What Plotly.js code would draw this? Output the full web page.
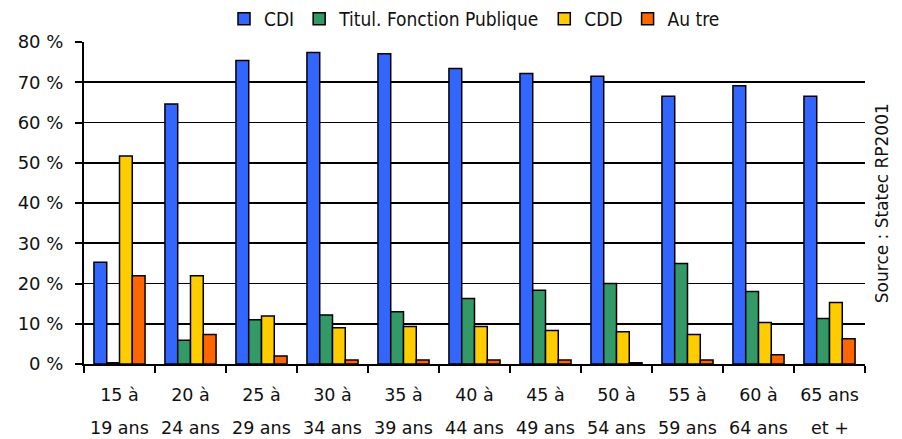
<!DOCTYPE html>
<html>
<head>
<meta charset="utf-8">
<script src="https://cdn.plot.ly/plotly-3.0.1.min.js"></script>
<style>html,body{margin:0;padding:0;background:#fff;}#chart{width:902px;height:439px;}</style>
</head>
<body>
<div id="chart"></div>
<script>
const categories = ["15 à 19 ans","20 à 24 ans","25 à 29 ans","30 à 34 ans","35 à 39 ans","40 à 44 ans","45 à 49 ans","50 à 54 ans","55 à 59 ans","60 à 64 ans","65 ans et +"];
const labelLine1 = ["15 à","20 à","25 à","30 à","35 à","40 à","45 à","50 à","55 à","60 à","65 ans"];
const labelLine2 = ["19 ans","24 ans","29 ans","34 ans","39 ans","44 ans","49 ans","54 ans","59 ans","64 ans","et +"];
const cdi   = [25.3, 64.6, 75.4, 77.4, 77.1, 73.4, 72.2, 71.5, 66.5, 69.1, 66.5];
const titul = [0.3, 5.9, 11.0, 12.2, 13.0, 16.3, 18.3, 20.0, 25.0, 18.0, 11.3];
const cdd   = [51.7, 21.9, 11.9, 9.0, 9.3, 9.3, 8.3, 8.0, 7.3, 10.3, 15.3];
const autre = [21.9, 7.3, 2.0, 1.0, 1.0, 1.0, 1.0, 0.3, 1.0, 2.3, 6.3];
const seriesNames = ["CDI", "Titul. Fonction Publique", "CDD", "Au tre"];
const yTicks = [0, 10, 20, 30, 40, 50, 60, 70, 80];
const yTickText = ["0 %","10 %","20 %","30 %","40 %","50 %","60 %","70 %","80 %"];
const sourceText = "Source : Statec RP2001";

const colors = ["#3366FF", "#339966", "#FFCC00", "#FF6600"];
const values = [cdi, titul, cdd, autre];
const font = "DejaVu Sans, sans-serif";
const narrow = "Liberation Sans Narrow, DejaVu Sans Condensed, sans-serif";

const traces = values.map((v, i) => ({
  type: "bar",
  name: seriesNames[i],
  x: categories,
  y: v,
  marker: {color: colors[i], line: {color: "#000", width: 1.5}},
  hoverinfo: "x+y"
}));

const annotations = categories.map((c, i) => ({
  x: c, xref: "x", y: 0, yref: "paper",
  yshift: -64, text: labelLine2[i], showarrow: false,
  font: {family: font, size: 17.5, color: "#111"},
  yanchor: "middle"
}));
annotations.push({
  x: 1.022, xref: "paper", y: 0.5, yref: "paper",
  text: sourceText, textangle: -90, showarrow: false,
  font: {family: font, size: 17, color: "#111"},
  xanchor: "center", yanchor: "middle"
});

const layout = {
  width: 902, height: 439,
  margin: {l: 84, r: 37, t: 42, b: 75},
  paper_bgcolor: "#fff", plot_bgcolor: "#fff",
  barmode: "group", bargap: 0.28, bargroupgap: 0,
  showlegend: true,
  legend: {orientation: "h", x: 0.5, xanchor: "center", yref: "container", y: 1.0, yanchor: "top",
           font: {family: narrow, size: 19, color: "#111"}, itemwidth: 30, tracegroupgap: 0},
  xaxis: {
    type: "category",
    tickmode: "array", tickvals: categories, ticktext: labelLine1,
    tickson: "boundaries", ticks: "outside", ticklen: 7, tickwidth: 2, tickcolor: "#000",
    showline: true, linecolor: "#000", linewidth: 2,
    showgrid: false, zeroline: false,
    ticklabelstandoff: 14,
    tickfont: {family: font, size: 17.5, color: "#111"}
  },
  yaxis: {
    range: [0, 80], tickmode: "array", tickvals: yTicks, ticktext: yTickText,
    ticks: "outside", ticklen: 7, tickwidth: 2, tickcolor: "#000",
    showline: true, linecolor: "#000", linewidth: 2,
    showgrid: true, gridcolor: "#000", gridwidth: 1.8,
    zeroline: false,
    ticklabelstandoff: 8,
    tickfont: {family: font, size: 18, color: "#111"}
  },
  annotations: annotations
};

Plotly.newPlot("chart", traces, layout, {displayModeBar: false, staticPlot: true});
</script>
</body>
</html>
